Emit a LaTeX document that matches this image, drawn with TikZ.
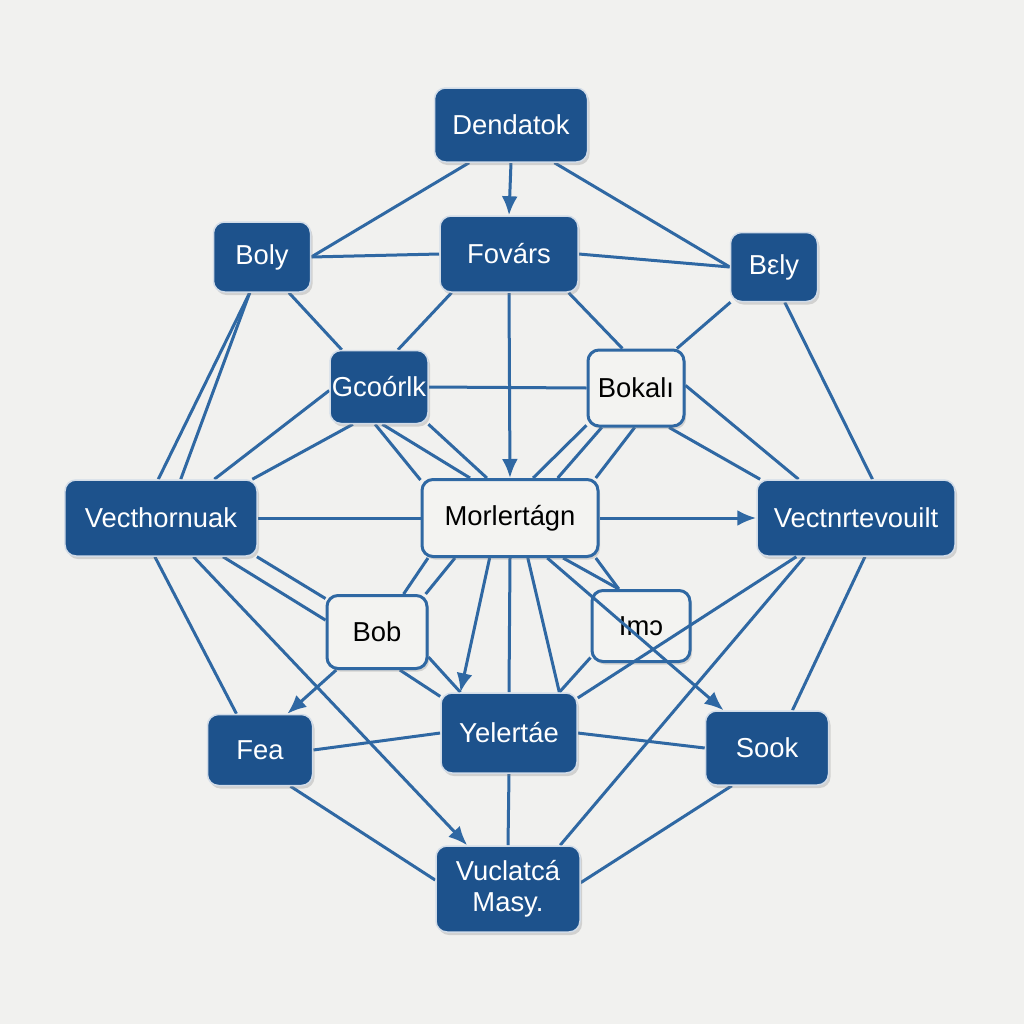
\documentclass[tikz,border=0pt]{standalone}
\usepackage{fontspec}
\setmainfont{Liberation Sans}
\usetikzlibrary{arrows.meta,shadows}
\definecolor{nodeblue}{HTML}{1D528C}
\definecolor{linkblue}{HTML}{2F68A3}
\definecolor{paper}{HTML}{F1F1EF}
\definecolor{lightfill}{HTML}{F3F3F1}
\pgfdeclarelayer{paperlayer}
\pgfdeclarelayer{edgelayer}
\pgfsetlayers{paperlayer,edgelayer,main}
\tikzset{
  box/.style={rounded corners=11bp, inner sep=0pt, align=center,
    font=\fontsize{27.5}{31}\selectfont,
    drop shadow={opacity=0.28,shadow xshift=2bp,shadow yshift=-3bp}},
  darkbox/.style={box, fill=nodeblue, draw=white!80!nodeblue, line width=1.5bp, text=white},
  lightbox/.style={box, fill=lightfill, draw=linkblue, line width=3bp, text=black},
  link/.style={draw=linkblue, line width=3bp},
}

\begin{document}
\begin{tikzpicture}[x=1bp,y=-1bp,>={Latex[length=19bp,width=16bp]}]
\begin{pgfonlayer}{paperlayer}
  \fill[paper] (0,0) rectangle (1024,1024);
\end{pgfonlayer}
%%
  % Node: top row
  \node[darkbox, minimum width=153bp, minimum height=74bp] (dend) at (511,125) {Dendatok};
  \node[darkbox, minimum width=138bp, minimum height=76bp] (fov) at (509,254) {Fovárs};
  \node[darkbox, minimum width=97bp, minimum height=70bp] (boly) at (262,257) {Boly};
  \node[darkbox, minimum width=87bp, minimum height=69bp] (bely) at (774,267) {Bεly};
  % Node: upper middle
  \node[darkbox, minimum width=98bp, minimum height=73bp] (gco) at (379,387) {Gcoórlk};
  \node[lightbox, minimum width=96bp, minimum height=76bp] (bok) at (636,388) {Bokalı};
  % Node: middle row
  \node[darkbox, minimum width=192bp, minimum height=76bp] (vech) at (161,518) {Vecthornuak};
  \node[lightbox, minimum width=176bp, minimum height=77bp] (morl) at (510,518) {Morlertágn};
  \node[darkbox, minimum width=198bp, minimum height=76bp] (vect) at (856,518) {Vectnrtevouilt};
  % Node: lower middle
  \node[lightbox, minimum width=100bp, minimum height=73bp] (bob) at (377,632) {Bob};
  \node[lightbox, minimum width=98bp, minimum height=71bp] (amo) at (641,626) {Imɔ};
  % Node: bottom rows
  \node[darkbox, minimum width=105bp, minimum height=71bp] (fea) at (260,750) {Fea};
  \node[darkbox, minimum width=136bp, minimum height=80bp] (yel) at (509,733) {Yelertáe};
  \node[darkbox, minimum width=123bp, minimum height=74bp] (sook) at (767,748) {Sook};
  \node[darkbox, minimum width=144bp, minimum height=86bp] (vucl) at (508,889) {Vuclatcá\\Masy.};
%
\begin{pgfonlayer}{edgelayer}
  % Edge: dend
  \draw[link,->] (dend.south) -- (fov.north);
  \draw[link] (dend.-138) -- (boly.east);
  \draw[link] (dend.-41) -- (bely.west);
  % Edge: fov
  \draw[link] (boly.east) -- (fov.west);
  \draw[link] (fov.east) -- (bely.west);
  \draw[link] (fov.-146) -- (gco.63);
  \draw[link,->] (fov.south) -- (morl.north);
  \draw[link] (fov.-33) -- (bok.109);
  % Edge: boly, bely
  \draw[link] (boly.-109) -- (vech.94);
  \draw[link] (boly.-109) -- (vech.63);
  \draw[link] (boly.-53) -- (gco.135);
  \draw[link] (bely.-141) -- (bok.44);
  \draw[link] (bely.-73) -- (vect.67);
  % Edge: gco
  \draw[link] (gco.east) -- (bok.west);
  \draw[link] (gco.-176) -- (vech.36);
  \draw[link] (gco.-125) -- (vech.23);
  \draw[link] (gco.-96) -- (morl.157);
  \draw[link] (gco.-85) -- (morl.135);
  \draw[link] (gco.-37) -- (morl.120);
  % Edge: bok
  \draw[link] (bok.-143) -- (morl.60);
  \draw[link] (bok.-131) -- (morl.40);
  \draw[link] (bok.-92) -- (morl.25);
  \draw[link] (bok.3) -- (vect.146);
  \draw[link] (bok.-50) -- (vect.158);
  % Edge: middle row
  \draw[link] (vech.east) -- (morl.west);
  \draw[link,->] (morl.east) -- (vect.west);
  \draw[link] (vech.-32) -- (bob.167);
  \draw[link] (vech.-22) -- (bob.147);
  \draw[link] (vech.-99) -- (fea.123);
  \draw[link,->] (vech.-50) -- (vucl.133);
  \draw[link] (morl.-154) -- (bob.55);
  \draw[link] (morl.-144) -- (bob.38);
  \draw[link,->] (morl.-117) -- (yel.140);
  \draw[link] (morl.south) -- (yel.north);
  \draw[link] (morl.-66) -- (yel.39);
  \draw[link] (morl.-37) -- (amo.121);
  \draw[link] (morl.-25) -- (amo.121);
  % Edge: bob, amo
  \draw[link,->] (bob.-137) -- (fea.53);
  \draw[link] (bob.-59) -- (yel.152);
  \draw[link] (bob.-26) -- (yel.140);
  \draw[link] (amo.-148) -- (yel.39);
  % Edge: vect
  \draw[link] (vect.-143) -- (vucl.40);
  \draw[link] (vect.-77) -- (sook.56);
  % Edge: bottom
  \draw[link] (fea.east) -- (yel.west);
  \draw[link] (yel.east) -- (sook.west);
  \draw[link] (fea.-50) -- (vucl.173);
  \draw[link] (yel.south) -- (vucl.north);
  \draw[link] (sook.-133) -- (vucl.5);
\end{pgfonlayer}
  % Edge: over amo
  \draw[link,->] (morl.-47) -- (sook.139);
  \draw[link] (vect.-147) -- (yel.27);
%
\end{tikzpicture}
\end{document}
